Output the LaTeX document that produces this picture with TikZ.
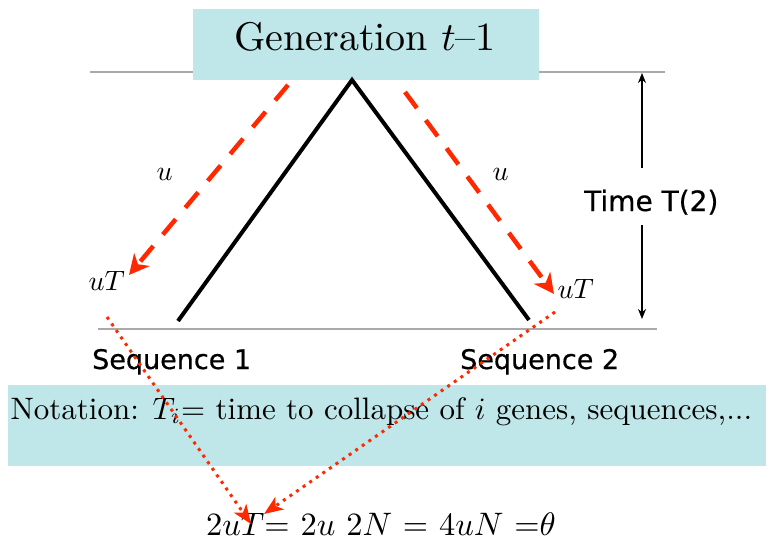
\RequirePackage{fix-cm}
\documentclass[tikz,border=0pt]{standalone}
\usepackage{fontspec}
\newfontfamily\labelsans{DejaVu Sans}[FakeBold=0.6]
\usetikzlibrary{arrows.meta}
\definecolor{boxcyan}{RGB}{191,230,232}
\definecolor{arrred}{RGB}{255,40,0}
\definecolor{linegray}{RGB}{170,170,170}
\tikzset{
  cyanbox/.style={fill=boxcyan, draw=none, inner sep=0pt, minimum width=#1},
  grayline/.style={draw=linegray, line width=2.2pt},
  tree/.style={draw=black, line width=4pt, line join=miter},
  dasharrow/.style={draw=arrred, line width=4.5pt, dash pattern=on 20pt off 15pt,
    -{Stealth[length=20pt,width=20pt,inset=6pt]}},
  dotarrow/.style={draw=arrred, line width=3pt, dash pattern=on 3pt off 5pt,
    -{Stealth[length=19pt,width=15pt,inset=5pt]}},
  timearrow/.style={draw=black, line width=2pt, -{Stealth[length=10pt,width=8pt]}},
  bigtext/.style={inner sep=0pt, font=\fontsize{10}{12}\selectfont, scale=#1},
  mathlabel/.style={bigtext=2.8, anchor=base west},
  sanslabel/.style={inner sep=0pt, anchor=base west, font=\labelsans\fontsize{27}{32}\selectfont},
}
\begin{document}
\begin{tikzpicture}[x=1pt,y=-1pt]
\useasboundingbox (0,0) rectangle (766,541);
% gray reference lines
\coordinate (tl) at (90,72);
\coordinate (tr) at (665,72);
\coordinate (bl) at (98,329);
\coordinate (br) at (657,329);
\draw[grayline] (tl) -- (tr);
\draw[grayline] (bl) -- (br);
% top box
\node[cyanbox=346pt, minimum height=71pt] (genbox) at (366,44.5) {};
\node[bigtext=4, anchor=base] (gen) at (365,50) {Generation $t$--1};
% tree
\coordinate (apex) at (352,80);
\coordinate (leaf1) at (178,321);
\coordinate (leaf2) at (529,320);
\draw[tree] (leaf1) -- (apex) -- (leaf2);
% dashed arrows
\coordinate (d1s) at (288,85);
\coordinate (d1e) at (129,275);
\coordinate (d2s) at (405,92);
\coordinate (d2e) at (554,294);
\draw[dasharrow] (d1s) -- (d1e);
\draw[dasharrow] (d2s) -- (d2e);
% labels
\node[mathlabel] (u1) at (156,180) {$u$};
\node[mathlabel] (u2) at (492,180) {$u$};
\node[mathlabel] (uT1) at (88,290) {$uT$};
\node[mathlabel] (uT2) at (557,298) {$uT$};
\node[sanslabel] (seq1) at (92,369) {Sequence 1};
\node[sanslabel] (seq2) at (460,369) {Sequence 2};
\node[sanslabel, font=\labelsans\fontsize{28}{32}\selectfont] (time) at (584,211) {Time T(2)};
% time arrow
\coordinate (ta1) at (642,168);
\coordinate (ta2) at (642,73);
\coordinate (tb1) at (642,225);
\coordinate (tb2) at (642,319);
\draw[timearrow] (ta1) -- (ta2);
\draw[timearrow] (tb1) -- (tb2);
% notation box
\node[cyanbox=758pt, minimum height=81pt] (notebox) at (387,425.5) {};
\node[bigtext=3.1, anchor=base west] (note) at (10,419)
  {Notation: $T_i$$=$ time to collapse of $i$ genes, sequences,...};
% formula
\node[bigtext=3.25, anchor=base] (formula) at (381,535)
  {$2uT$$=$ $2u$ $2N$ $=$ $4uN$ $=$$\theta$};
% dotted arrows
\coordinate (p1s) at (107,317);
\coordinate (p1e) at (251,524);
\coordinate (p2s) at (555,312);
\coordinate (p2e) at (264,514);
\draw[dotarrow] (p1s) -- (p1e);
\draw[dotarrow] (p2s) -- (p2e);
\end{tikzpicture}
\end{document}
